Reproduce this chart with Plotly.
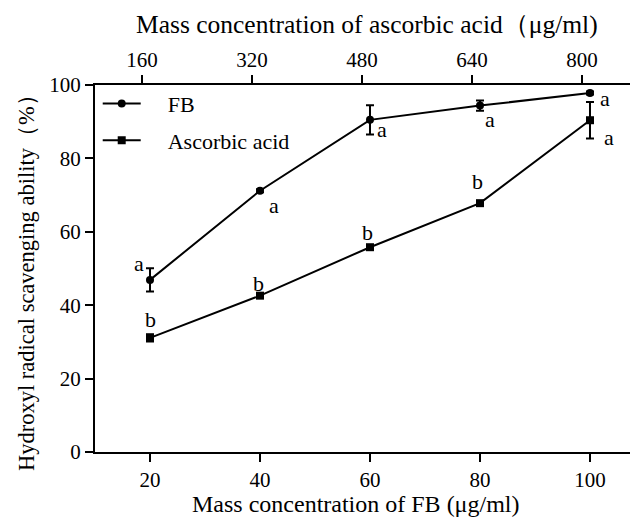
import plotly.graph_objects as go

# ---- data ----
fb_conc = [20, 40, 60, 80, 100]                 # µg/ml (bottom axis)
asc_conc_labels = [160, 320, 480, 640, 800]     # µg/ml (top axis)
fb_values = [46.9, 71.2, 90.5, 94.4, 97.8]
fb_err = [3.2, 0.4, 4.0, 1.4, 0.4]
asc_values = [31.1, 42.6, 55.8, 67.8, 90.4]
asc_err = [1.0, 0.4, 0.4, 0.4, 5.0]
fb_letters = ["a", "a", "a", "a", "a"]
asc_letters = ["b", "b", "b", "b", "a"]
# letter label positions (data coordinates)
fb_letter_x = [18.0, 42.5, 62.2, 81.8, 102.7]
fb_letter_y = [51.5, 67.3, 88.0, 90.7, 96.2]
asc_letter_x = [20.0, 39.8, 59.5, 79.6, 103.5]
asc_letter_y = [36.0, 46.0, 59.9, 73.6, 85.6]

FONT = "Liberation Serif, Times New Roman, serif"

fig = go.Figure()
fig.add_trace(go.Scatter(
    x=fb_conc, y=fb_values, name="\u00a0\u00a0\u00a0\u00a0FB", mode="lines+markers",
    line=dict(color="black", width=2),
    marker=dict(symbol="circle", size=8, color="black"),
    error_y=dict(type="data", array=fb_err, color="black", thickness=2, width=4),
    legendgroup="fb"))
fig.add_trace(go.Scatter(
    x=fb_conc, y=asc_values, name="\u00a0\u00a0\u00a0\u00a0Ascorbic acid", mode="lines+markers",
    line=dict(color="black", width=2),
    marker=dict(symbol="square", size=8, color="black"),
    error_y=dict(type="data", array=asc_err, color="black", thickness=2, width=4),
    legendgroup="asc"))
# dummy trace to activate the top axis
fig.add_trace(go.Scatter(x=asc_conc_labels, y=[None]*5, xaxis="x2", mode="markers",
                         showlegend=False, hoverinfo="skip"))

ann = []
for xs, ys, ls in [(fb_letter_x, fb_letter_y, fb_letters), (asc_letter_x, asc_letter_y, asc_letters)]:
    for x, y, t in zip(xs, ys, ls):
        ann.append(dict(x=x, y=y, text=t, showarrow=False, xref="x", yref="y",
                        font=dict(family=FONT, size=22, color="black")))
ann.append(dict(text="Mass concentration of FB (\u03bcg/ml)", xref="paper", yref="paper",
                x=0.479, y=-0.143, showarrow=False, xanchor="center", yanchor="middle",
                font=dict(family=FONT, size=24, color="black")))
ann.append(dict(text="Mass concentration of ascorbic acid\uff08\u03bcg/ml)", xref="paper", yref="paper",
                x=0.5, y=1.166, showarrow=False, xanchor="center", yanchor="middle",
                font=dict(family=FONT, size=25.5, color="black")))
ann.append(dict(text="Hydroxyl radical scavenging ability\uff08%\uff09", xref="paper", yref="paper",
                x=-0.125, y=0.477, showarrow=False, xanchor="center", yanchor="middle",
                textangle=-90, font=dict(family=FONT, size=22.5, color="black")))

axis_common = dict(showline=True, linecolor="black", linewidth=2, ticks="outside",
                   tickcolor="black", tickwidth=2, ticklen=8, showgrid=False, zeroline=False,
                   tickfont=dict(family=FONT, size=21, color="black"))

fig.update_layout(
    width=630, height=512,
    margin=dict(l=87, r=0, t=77, b=68),
    paper_bgcolor="white", plot_bgcolor="white",
    showlegend=True,
    legend=dict(x=0.005, y=1.006, xanchor="left", yanchor="top", bgcolor="rgba(0,0,0,0)",
                font=dict(family=FONT, size=22, color="black"), traceorder="grouped",
                tracegroupgap=5, itemwidth=38),
    xaxis=dict(range=[10, 108.73], tickvals=fb_conc, **axis_common),
    xaxis2=dict(range=[91.6, 881.5], tickvals=asc_conc_labels, overlaying="x", side="top",
                anchor="y", **axis_common),
    yaxis=dict(range=[0, 100], tickvals=[0, 20, 40, 60, 80, 100], **axis_common),
    annotations=ann,
)

fig.write_html("out.html")
